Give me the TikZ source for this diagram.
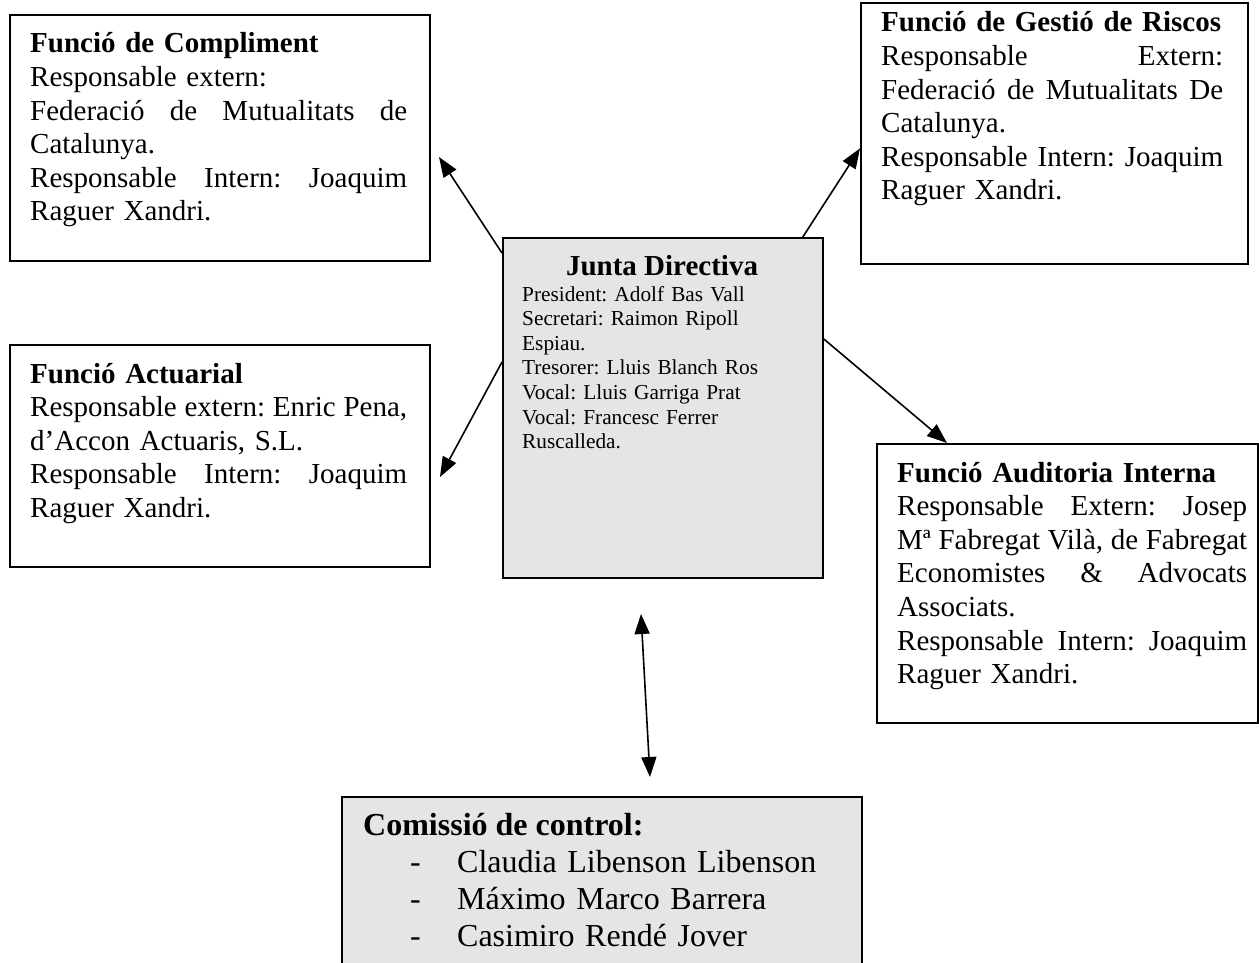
\documentclass[tikz,border=0pt]{standalone}
\usepackage{fontspec}
\setmainfont{Liberation Serif}
\usetikzlibrary{arrows.meta}

\newcommand{\bodyfont}{\fontsize{29}{33.6}\selectfont}
\newcommand{\smallfont}{\fontsize{21.3}{24.6}\selectfont}
\newcommand{\listfont}{\fontsize{32}{37}\selectfont}
\newcommand{\fullline}[2]{\leavevmode\hbox to #1{\spaceskip=\fontdimen2\font plus 1fil minus 0.5\fontdimen2\font\relax #2}}
\frenchspacing

\begin{document}
\begin{tikzpicture}[x=1pt,y=-1pt,
  frame/.style={draw=black, line width=1.8pt, rectangle, anchor=north west, inner sep=0pt},
  grey/.style={fill=black!10},
  txt/.style={anchor=base west, inner sep=0pt, font=\bodyfont},
  link/.style={line width=1.6pt, -{Triangle[length=20pt,width=15pt]}}]
\tikzstyle{every node}+=[inner sep=0pt]
\useasboundingbox (0,0) rectangle (1259,963);

% frames
\node [frame, minimum width=420pt, minimum height=246pt] (compl) at (9,14) {};
\node [frame, minimum width=387pt, minimum height=261pt] (riscos) at (860,2) {};
\node [frame, minimum width=420pt, minimum height=222pt] (actuar) at (9,344) {};
\node [frame, grey, minimum width=320pt, minimum height=340pt] (junta) at (502,237) {};
\node [frame, minimum width=381pt, minimum height=279pt] (audit) at (876,443) {};
\node [frame, grey, minimum width=520pt, minimum height=200pt] (comis) at (341,796) {};

% texts
\node [txt, text width=377pt] (compltxt) at (30,53) {\textbf{Funció de Compliment}\\
Responsable extern:\\
\fullline{377pt}{Federació de Mutualitats de}\\
Catalunya.\\
\fullline{377pt}{Responsable Intern: Joaquim}\\
Raguer Xandri.};

\node [txt, text width=342pt] (riscostxt) at (881,32) {\textbf{Funció de Gestió de Riscos}\\
\fullline{342pt}{Responsable Extern:}\\
\fullline{342pt}{Federació de Mutualitats De}\\
Catalunya.\\
\fullline{342pt}{Responsable Intern: Joaquim}\\
Raguer Xandri.};

\node [txt, text width=377pt] (actuartxt) at (30,383) {\textbf{Funció Actuarial}\\
\fullline{377pt}{Responsable extern: Enric Pena,}\\
d’Accon Actuaris, S.L.\\
\fullline{377pt}{Responsable Intern: Joaquim}\\
Raguer Xandri.};

\node [txt, text width=350pt] (audittxt) at (897,482) {\textbf{Funció Auditoria Interna}\\
\fullline{350pt}{Responsable Extern: Josep}\\
\fullline{350pt}{Mª Fabregat Vilà, de Fabregat}\\
\fullline{350pt}{Economistes \& Advocats}\\
Associats.\\
\fullline{350pt}{Responsable Intern: Joaquim}\\
Raguer Xandri.};

\node [txt, anchor=base] (juntatitle) at (662,275) {\textbf{Junta Directiva}};
\node [txt, font=\smallfont, text width=280pt] (juntatxt) at (522,301) {President: Adolf Bas Vall\\
Secretari: Raimon Ripoll\\
Espiau.\\
Tresorer: Lluis Blanch Ros\\
Vocal: Lluis Garriga Prat\\
Vocal: Francesc Ferrer\\
Ruscalleda.};

\node [txt, font=\listfont] (comistitle) at (363,835) {\textbf{Comissió de control:}};
\node [txt, font=\listfont, text width=450pt] (comistxt) at (410,872) {\makebox[47pt][l]{-}Claudia Libenson Libenson\\
\makebox[47pt][l]{-}Máximo Marco Barrera\\
\makebox[47pt][l]{-}Casimiro Rendé Jover};

% free arrow ends
\coordinate (tocompl) at (439,157);
\coordinate (toactuar) at (440,477);
\coordinate (upend) at (641,614);
\coordinate (downend) at (650,777);

% arrows
\draw [link] ([yshift=-16pt]junta.north west) -- (tocompl);
\draw [link] ([xshift=-21pt]junta.north east) -- ([yshift=-15pt]riscos.west);
\draw [link] ([yshift=-125pt]junta.north west) -- (toactuar);
\draw [link] ([yshift=-102pt]junta.north east) -- ([xshift=71pt]audit.north west);
\draw [link, {Triangle[length=20pt,width=15pt]}-{Triangle[length=20pt,width=15pt]}] (upend) -- (downend);

\end{tikzpicture}
\end{document}
